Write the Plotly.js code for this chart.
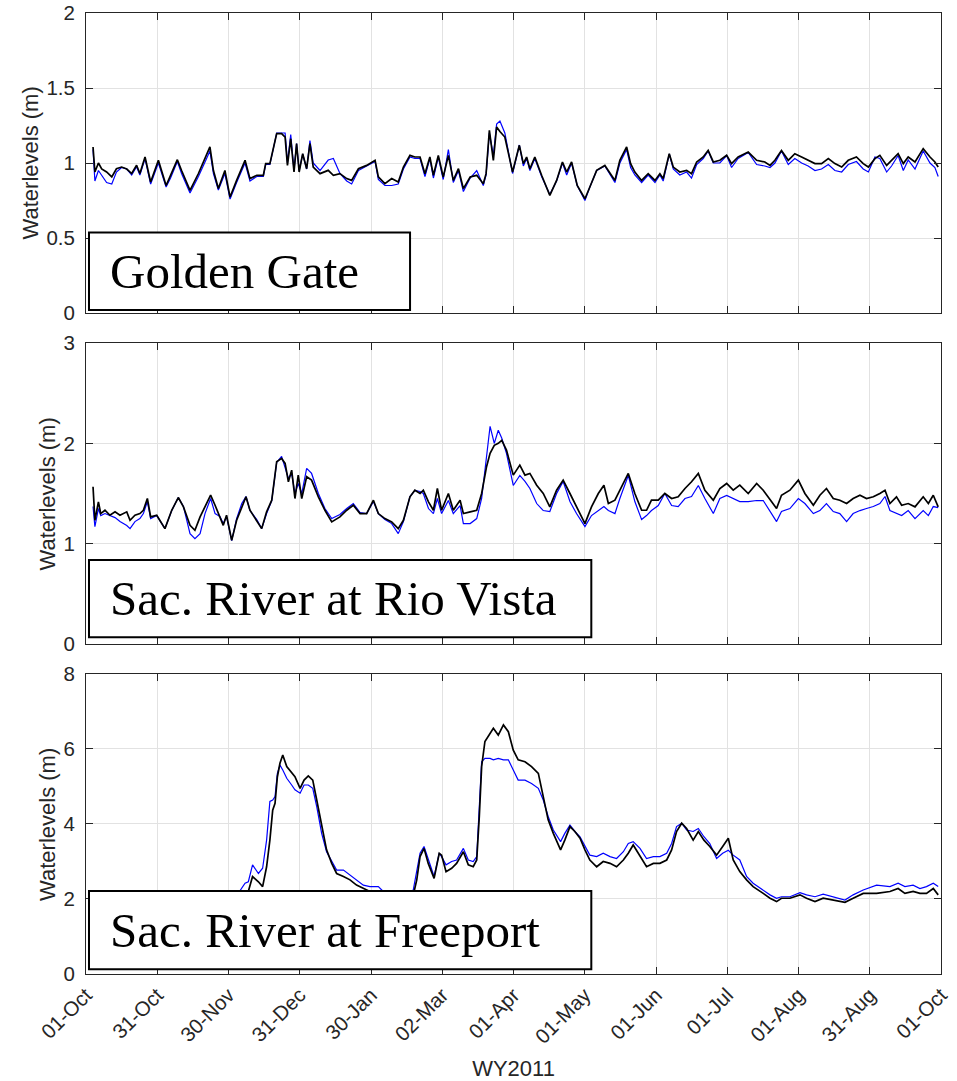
<!DOCTYPE html>
<html>
<head>
<meta charset="utf-8">
<script src="https://cdn.plot.ly/plotly-3.0.1.min.js"></script>
<style>
  html, body { margin: 0; padding: 0; background: #ffffff; }
  #chart { width: 957px; height: 1081px; }
</style>
</head>
<body>
<div id="chart"></div>
<script>
// Water year 2011 tick labels (12 equal steps across the year)
const tickLabels = ['01-Oct', '31-Oct', '30-Nov', '31-Dec', '30-Jan', '02-Mar', '01-Apr',
                    '01-May', '01-Jun', '01-Jul', '01-Aug', '31-Aug', '01-Oct'];

const stationNames = ['Golden Gate', 'Sac. River at Rio Vista', 'Sac. River at Freeport'];

// ---- Golden Gate: days since 01-Oct-2010, observed (black) and modeled (blue) water levels, m
const ggDays = [3, 3.8, 5.3, 6.7, 8.8, 11, 13, 15.2, 17.4, 19.5, 21.6, 23, 25.2, 27.6, 30.9,
  34.2, 36.1, 39, 40.8, 44.4, 48, 51.2, 52.9, 54.4, 56.5, 59.3, 61.5, 64.3, 67.9, 70,
  72.9, 75.7, 76.7, 78.5, 81.4, 83.5, 85, 86, 87.4, 88.8, 89.9, 91, 92.5, 94.2, 95.6,
  97, 99.9, 103.4, 105.6, 108.4, 111.3, 113.4, 116.3, 119.8, 123.4, 124.8, 127.6, 130.5, 133.3, 135.5,
  138.3, 140.4, 142.6, 144.7, 146.8, 148.3, 150.4, 152.5, 154.7, 156.8, 159, 161.1, 164, 166.8, 169.6,
  170.8, 172.2, 173.9, 175.3, 176.7,
  178.8, 182.1, 185, 186.7, 188.1, 189.5, 191.6, 194.5, 198, 200.9, 203.4, 205.2, 207.3, 209.7, 213,
  215.1, 218, 221.5, 225.8, 227.9, 230.8, 232.5, 234.3, 237.2, 240, 242.9, 245, 246.4, 249, 250.7,
  253.5, 256.4, 258.5, 260.7, 263.5, 265.6, 267.8, 270.6, 273.5, 275.6, 278.4, 282.7, 286.3, 289.8, 292,
  294.1, 296.9, 299.8, 302.6, 305.5, 308.3, 311.2, 314, 316.9, 319.7, 322.6, 325.4, 328.9, 331.8, 334,
  336.8, 338.9, 341.8, 343.9, 346.7, 348.9, 351, 353.9, 357.4, 360.3, 362.4, 363.8];
const ggObs = [1.107, 0.94, 1.0, 0.96, 0.94, 0.907, 0.962, 0.973, 0.96, 0.93, 0.985, 0.93, 1.04, 0.873, 1.018,
  0.85, 0.918, 1.022, 0.95, 0.818, 0.93, 1.04, 1.107, 0.95, 0.83, 0.95, 0.773, 0.884, 1.018, 0.896,
  0.918, 0.918, 0.996, 0.996, 1.196, 1.196, 1.173, 0.984, 1.162, 0.94, 1.129, 0.94, 1.062, 0.962, 1.129,
  0.973, 0.929, 0.951, 0.918, 0.929, 0.896, 0.884, 0.962, 0.984, 1.018, 0.907, 0.862, 0.896, 0.873, 0.973,
  1.051, 1.04, 1.04, 0.929, 1.04, 0.918, 1.051, 0.907, 1.051, 0.884, 0.962, 0.829, 0.907, 0.918, 0.862,
  0.929, 1.218, 1.018, 1.24, 1.21,
  1.173, 0.94, 1.118, 0.996, 1.04, 0.962, 1.04, 0.918, 0.784, 0.884, 1.007, 0.94, 1.007, 0.851, 0.762,
  0.84, 0.951, 0.984, 0.884, 1.018, 1.107, 0.996, 0.94, 0.884, 0.929, 0.884, 0.929, 0.896, 1.062, 0.973,
  0.94, 0.951, 0.929, 1.007, 1.04, 1.084, 1.007, 1.018, 1.051, 0.996, 1.04, 1.073, 1.018, 1.007, 0.984,
  1.018, 1.084, 1.018, 1.062, 1.04, 1.018, 0.996, 0.996, 1.029, 0.996, 0.973, 1.018, 1.04, 0.996, 0.973,
  1.029, 1.051, 0.984, 1.018, 1.062, 0.996, 1.04, 1.007, 1.096, 1.04, 1.007, 0.973];
const ggModel = [1.09, 0.88, 0.95, 0.92, 0.87, 0.86, 0.94, 0.97, 0.96, 0.92, 0.975, 0.92, 1.03, 0.86, 1.0,
  0.84, 0.9, 1.01, 0.93, 0.8, 0.91, 1.02, 1.08, 0.93, 0.82, 0.93, 0.76, 0.87, 1.0, 0.88,
  0.91, 0.91, 0.99, 0.99, 1.2, 1.2, 1.2, 1.0, 1.19, 0.95, 1.13, 0.95, 1.06, 0.96, 1.15,
  1.0, 0.95, 1.02, 1.03, 0.93, 0.88, 0.86, 0.95, 0.98, 1.01, 0.89, 0.85, 0.85, 0.86, 0.96,
  1.04, 1.03, 1.03, 0.91, 1.03, 0.9, 1.04, 0.89, 1.09, 0.87, 0.95, 0.81, 0.9, 0.95, 0.85,
  0.92, 1.2, 1.05, 1.26, 1.28,
  1.2, 0.93, 1.12, 0.98, 1.03, 0.95, 1.03, 0.91, 0.79, 0.88, 1.0, 0.92, 1.0, 0.85, 0.75,
  0.84, 0.95, 0.98, 0.87, 1.0, 1.09, 0.97, 0.92, 0.87, 0.92, 0.87, 0.92, 0.88, 1.06, 0.96,
  0.92, 0.94, 0.9, 0.99, 1.03, 1.08, 1.0, 1.0, 1.05, 0.97, 1.03, 1.07, 0.99, 0.98, 0.97,
  1.0, 1.08, 0.99, 1.03, 1.0, 0.98, 0.95, 0.96, 0.99, 0.95, 0.94, 0.99, 1.01, 0.96, 0.94,
  1.04, 1.03, 0.94, 0.98, 1.05, 0.95, 1.02, 0.96, 1.08, 1.0, 0.97, 0.91];

// ---- Sacramento River at Rio Vista
const rvDays = [3, 3.8, 5.3, 6.3, 8.1, 10.2, 12.4, 14.5, 17.4, 18.8, 20.9, 23, 24.5, 26.2, 27.6,
  30.2, 33.7, 36.6, 39.4, 41.6, 44.4, 46.5, 48.7, 50.8, 53.2, 55.1, 57.2, 58.6, 60, 62.2,
  64.3, 66.5, 68.3, 70, 72.9, 75, 77.1, 79.3, 81.4, 83.5, 85, 86.4, 87.8, 89.2, 90.6,
  92.1, 94.2, 96.3, 99.2, 102, 104.9, 108.4, 111.3, 114.1, 117, 119.8, 122.7, 124.8, 127.6, 130.5,
  133.3, 135.5, 138.3, 140.4, 142.6, 144, 146.2, 148.3, 150, 151.8, 154.7, 156.8, 159.7, 161.1, 164,
  166.8, 168.9, 171, 172.5, 174.3, 176, 177.5, 179.5,
  182.4, 185.2, 187.4, 189.5, 192.4, 195.2, 198, 200.9, 203.7, 206.6, 209.4, 213, 215.8, 218.7, 221.1,
  223, 225.8, 227.9, 231.5, 234.3, 237.2, 239.3, 241.4, 244.3, 247.1, 250, 252.8, 255.7, 258.5, 261.4,
  264.2, 267.8, 270.6, 273.5, 276.3, 279.1, 282.7, 286.3, 289.1, 292.7, 294.8, 296.9, 300.5, 304.1, 306.9,
  310.5, 313.3, 316.1, 319, 321.8, 324.7, 327.5, 330.4, 333.2, 336.1, 338.9, 341.1, 343.2, 346, 348.2,
  351, 353.9, 357.4, 359.6, 361.7, 363.8];
const rvObs = [1.567, 1.233, 1.417, 1.3, 1.333, 1.283, 1.317, 1.283, 1.317, 1.233, 1.283, 1.3, 1.333, 1.45, 1.267,
  1.283, 1.15, 1.333, 1.46, 1.367, 1.183, 1.133, 1.267, 1.367, 1.483, 1.383, 1.267, 1.183, 1.283, 1.033,
  1.233, 1.367, 1.467, 1.333, 1.233, 1.15, 1.317, 1.433, 1.817, 1.85, 1.8, 1.617, 1.733, 1.45, 1.683,
  1.45, 1.667, 1.633, 1.467, 1.333, 1.217, 1.267, 1.333, 1.383, 1.3, 1.3, 1.433, 1.3, 1.25, 1.217,
  1.15, 1.233, 1.467, 1.533, 1.5, 1.533, 1.417, 1.333, 1.55, 1.333, 1.5, 1.333, 1.433, 1.3, 1.317,
  1.333, 1.5, 1.767, 1.9, 1.98, 2.0, 2.03, 1.933,
  1.683, 1.783, 1.683, 1.7, 1.583, 1.5, 1.367, 1.533, 1.633, 1.5, 1.367, 1.2, 1.367, 1.5, 1.583,
  1.4, 1.433, 1.533, 1.7, 1.5, 1.333, 1.333, 1.433, 1.433, 1.5, 1.45, 1.467, 1.55, 1.617, 1.7,
  1.533, 1.433, 1.55, 1.6, 1.533, 1.583, 1.5, 1.6, 1.533, 1.417, 1.35, 1.483, 1.533, 1.633, 1.5,
  1.383, 1.483, 1.55, 1.45, 1.433, 1.4, 1.45, 1.483, 1.45, 1.467, 1.5, 1.533, 1.4, 1.467, 1.383,
  1.4, 1.367, 1.467, 1.4, 1.483, 1.367];
const rvModel = [1.37, 1.17, 1.35, 1.28, 1.3, 1.28, 1.26, 1.22, 1.18, 1.15, 1.22, 1.25, 1.3, 1.42, 1.25,
  1.28, 1.15, 1.33, 1.46, 1.37, 1.1, 1.05, 1.1, 1.3, 1.45, 1.3, 1.27, 1.2, 1.27, 1.03,
  1.25, 1.4, 1.47, 1.33, 1.24, 1.15, 1.3, 1.43, 1.81, 1.87, 1.76, 1.65, 1.7, 1.5, 1.6,
  1.5, 1.75, 1.7, 1.5, 1.35, 1.25, 1.29, 1.35, 1.4, 1.31, 1.3, 1.42, 1.3, 1.24, 1.2,
  1.1, 1.22, 1.47, 1.53, 1.52, 1.5, 1.35, 1.3, 1.45, 1.3, 1.43, 1.3, 1.38, 1.2, 1.2,
  1.25, 1.45, 1.9, 2.17, 2.0, 2.13, 2.05, 1.9,
  1.58, 1.68, 1.62, 1.55, 1.4, 1.33, 1.32, 1.5, 1.62, 1.42, 1.3, 1.17, 1.28, 1.33, 1.37,
  1.33, 1.3, 1.45, 1.68, 1.42, 1.24, 1.28, 1.33, 1.38, 1.5, 1.38, 1.37, 1.45, 1.47, 1.58,
  1.45, 1.3, 1.45, 1.48, 1.45, 1.42, 1.42, 1.43, 1.43, 1.3, 1.22, 1.32, 1.35, 1.45, 1.4,
  1.3, 1.33, 1.4, 1.32, 1.3, 1.22, 1.3, 1.33, 1.35, 1.37, 1.4, 1.47, 1.33, 1.3, 1.28,
  1.33, 1.25, 1.33, 1.28, 1.37, 1.36];

// ---- Sacramento River at Freeport
const fpDays = [3, 15, 30, 45, 58, 65.5, 67.9, 69.3, 71.1, 73.6, 75.4, 77.1, 78.5, 79.7, 80.7,
  81.7, 82.8, 84, 85.7, 87.8, 89.2, 91.4, 93.1, 94.9, 96.8, 98.5, 100.6, 102.7, 104.9, 107,
  109.9, 112.7, 115.5, 118.4, 121.2, 124.8, 126.9, 130, 134, 137, 139.7, 141.2, 142.6, 144.3, 146.1,
  148.6, 150.8, 151.8, 153.7, 156.1, 158.2, 161.1, 163.2, 165.3, 166.8, 167.9, 168.9, 170.3, 172.5, 173.9,
  176, 178.2, 180.3, 182.4, 184.5, 187.4, 190.2, 193.1, 195.2, 197.3, 199.5, 202.6, 204.4, 206.6, 208.7,
  210.9, 213, 215.1, 218, 220.8, 223.7, 226.5, 229.4, 231.5, 233.6, 236.5, 239.3, 242.2, 245, 247.9,
  250, 252.1, 254.3, 256.4, 259.2, 261.4, 263.8, 266.3, 269.2, 271.8, 274.2, 276.3, 279.1, 282, 284.8,
  289.1, 292, 294.8, 296.9, 300.5, 304.8, 307.6, 311.2, 314.7, 319, 324, 327.5, 331.8, 337.5, 343.2,
  346.7, 349.6, 353.1, 356, 358.8, 361.7, 363.8];
const fpObs = [1.7, 1.6, 1.65, 1.8, 1.9, 1.95, 2.05, 2.2, 2.6, 2.46, 2.33, 2.86, 3.57, 4.37, 4.55,
  5.26, 5.62, 5.84, 5.53, 5.35, 5.26, 4.95, 5.17, 5.28, 5.17, 4.64, 3.93, 3.31, 2.95, 2.68,
  2.6, 2.51, 2.37, 2.28, 2.2, 2.12, 2.08, 2.0, 1.95, 2.0, 2.1, 2.51, 3.13, 3.35, 2.95,
  2.55, 3.22, 3.17, 2.73, 2.82, 2.95, 3.26, 2.91, 2.86, 3.04, 4.2, 5.53, 6.2, 6.42, 6.55,
  6.37, 6.64, 6.46, 5.97, 5.71, 5.66, 5.53, 5.35, 4.73, 4.11, 3.75, 3.31, 3.57, 3.93, 3.8,
  3.62, 3.31, 3.04, 2.86, 3.0, 2.95, 2.86, 3.04, 3.22, 3.44, 3.13, 2.86, 2.95, 2.95, 3.04,
  3.31, 3.8, 4.02, 3.88, 3.57, 3.8, 3.57, 3.4, 3.17, 3.4, 3.62, 3.04, 2.73, 2.51, 2.33,
  2.15, 2.02, 1.93, 2.02, 2.02, 2.11, 2.02, 1.93, 2.02, 1.97, 1.91, 2.02, 2.15, 2.15, 2.2,
  2.28, 2.15, 2.2, 2.15, 2.15, 2.28, 2.11];
const fpModel = [1.75, 1.65, 1.7, 1.85, 2.0, 2.2, 2.42, 2.46, 2.91, 2.68, 2.82, 3.57, 4.6, 4.64, 4.73,
  5.35, 5.57, 5.44, 5.22, 5.04, 4.91, 4.82, 5.04, 5.04, 4.95, 4.46, 3.75, 3.26, 3.0, 2.77,
  2.77, 2.64, 2.51, 2.37, 2.33, 2.33, 2.2, 2.1, 2.05, 2.1, 2.24, 2.77, 3.22, 3.4, 3.04,
  2.6, 3.22, 3.13, 2.91, 3.0, 3.04, 3.35, 3.04, 3.0, 3.13, 4.37, 5.66, 5.75, 5.75, 5.71,
  5.75, 5.71, 5.71, 5.44, 5.17, 5.17, 5.08, 4.95, 4.64, 4.2, 3.84, 3.53, 3.75, 3.97, 3.8,
  3.66, 3.4, 3.17, 3.13, 3.22, 3.13, 3.08, 3.26, 3.48, 3.53, 3.35, 3.08, 3.13, 3.13, 3.22,
  3.48, 3.93, 4.02, 3.84, 3.8, 3.88, 3.66, 3.48, 3.08, 3.22, 3.3, 3.17, 3.04, 2.6, 2.42,
  2.24, 2.11, 2.02, 2.06, 2.06, 2.17, 2.11, 2.06, 2.13, 2.06, 1.97, 2.11, 2.24, 2.37, 2.33,
  2.42, 2.33, 2.37, 2.28, 2.33, 2.42, 2.33];

// ---- helpers
const dayMs = 86400000;
const start = Date.UTC(2010, 9, 1);
function toDate(d) {
  return new Date(start + Math.round(d * dayMs)).toISOString().slice(0, 19).replace('T', ' ');
}
const tickVals = tickLabels.map((_, k) => toDate(k * 365 / 12));

const axisColor = '#262626';
const gridColor = '#e2e2e2';
const tickFont = { family: 'Liberation Sans, Arial, sans-serif', size: 20.5, color: axisColor };
const titleFont = { family: 'Liberation Sans, Arial, sans-serif', size: 22, color: axisColor };

function series(days, vals, color, width, xa, ya) {
  return {
    type: 'scatter', mode: 'lines',
    x: days.map(toDate), y: vals,
    xaxis: xa, yaxis: ya,
    line: { color: color, width: width },
    hoverinfo: 'x+y'
  };
}

const traces = [
  series(ggDays, ggModel, '#0000ff', 1.2, 'x', 'y'),
  series(ggDays, ggObs, '#000000', 1.7, 'x', 'y'),
  series(rvDays, rvModel, '#0000ff', 1.2, 'x2', 'y2'),
  series(rvDays, rvObs, '#000000', 1.7, 'x2', 'y2'),
  series(fpDays, fpModel, '#0000ff', 1.2, 'x3', 'y3'),
  series(fpDays, fpObs, '#000000', 1.7, 'x3', 'y3')
];

function xAxis(anchor, showLabels) {
  const ax = {
    type: 'date', anchor: anchor, domain: [0, 1],
    range: [toDate(0), toDate(365)],
    tickmode: 'array', tickvals: tickVals, ticktext: tickLabels,
    showticklabels: showLabels, tickangle: -45, tickfont: tickFont,
    ticks: 'inside', ticklen: 7, tickwidth: 1, tickcolor: axisColor,
    showline: true, linecolor: axisColor, linewidth: 1, mirror: 'ticks',
    showgrid: true, gridcolor: gridColor, gridwidth: 1, zeroline: false
  };
  if (showLabels) ax.title = { text: 'WY2011', font: titleFont, standoff: 20 };
  return ax;
}
function yAxis(anchor, domain, range, dtick) {
  return {
    anchor: anchor, domain: domain, range: range,
    tickmode: 'linear', tick0: 0, dtick: dtick,
    tickfont: tickFont, ticklabelstandoff: 6,
    ticks: 'inside', ticklen: 7, tickwidth: 1, tickcolor: axisColor,
    showline: true, linecolor: axisColor, linewidth: 1, mirror: 'ticks',
    showgrid: true, gridcolor: gridColor, gridwidth: 1, zeroline: false
  };
}

// y axis titles, placed beside each panel's tick labels
const panelDomains = [[0.6878, 1], [0.3434, 0.6566], [0, 0.3122]];
const yTitleX = [-0.065, -0.0445, -0.0445];
const yTitles = panelDomains.map((dom, i) => ({
  xref: 'paper', yref: 'paper', x: yTitleX[i], y: (dom[0] + dom[1]) / 2,
  xanchor: 'center', yanchor: 'middle', textangle: -90, showarrow: false,
  text: 'Waterlevels (m)', font: titleFont
}));

// station label boxes (domain fractions of each panel)
const boxes = [
  { xref: 'x domain', yref: 'y domain', x1: 0.379, y0: 0.01, y1: 0.268 },
  { xref: 'x2 domain', yref: 'y2 domain', x1: 0.591, y0: 0.022, y1: 0.279 },
  { xref: 'x3 domain', yref: 'y3 domain', x1: 0.591, y0: 0.016, y1: 0.277 }
];
const shapes = boxes.map(b => ({
  type: 'rect', xref: b.xref, yref: b.yref, x0: 0.0035, x1: b.x1, y0: b.y0, y1: b.y1,
  fillcolor: '#ffffff', line: { color: '#000000', width: 2 }, layer: 'above'
}));
const stationLabels = boxes.map((b, i) => ({
  xref: b.xref, yref: b.yref, x: 0.026, y: (b.y0 + b.y1) / 2,
  xanchor: 'left', yanchor: 'middle', showarrow: false,
  text: stationNames[i],
  font: { family: 'Liberation Serif, Times New Roman, serif', size: 49, color: '#000000' }
}));

const layout = {
  width: 957, height: 1081,
  margin: { l: 86, r: 16, t: 13, b: 107 },
  paper_bgcolor: '#ffffff', plot_bgcolor: '#ffffff',
  showlegend: false,
  xaxis: xAxis('y', false),
  xaxis2: xAxis('y2', false),
  xaxis3: xAxis('y3', true),
  yaxis: yAxis('x', panelDomains[0], [0, 2], 0.5),
  yaxis2: yAxis('x2', panelDomains[1], [0, 3], 1),
  yaxis3: yAxis('x3', panelDomains[2], [0, 8], 2),
  shapes: shapes,
  annotations: yTitles.concat(stationLabels)
};

Plotly.newPlot('chart', traces, layout, { displayModeBar: false, staticPlot: true });
</script>
</body>
</html>
